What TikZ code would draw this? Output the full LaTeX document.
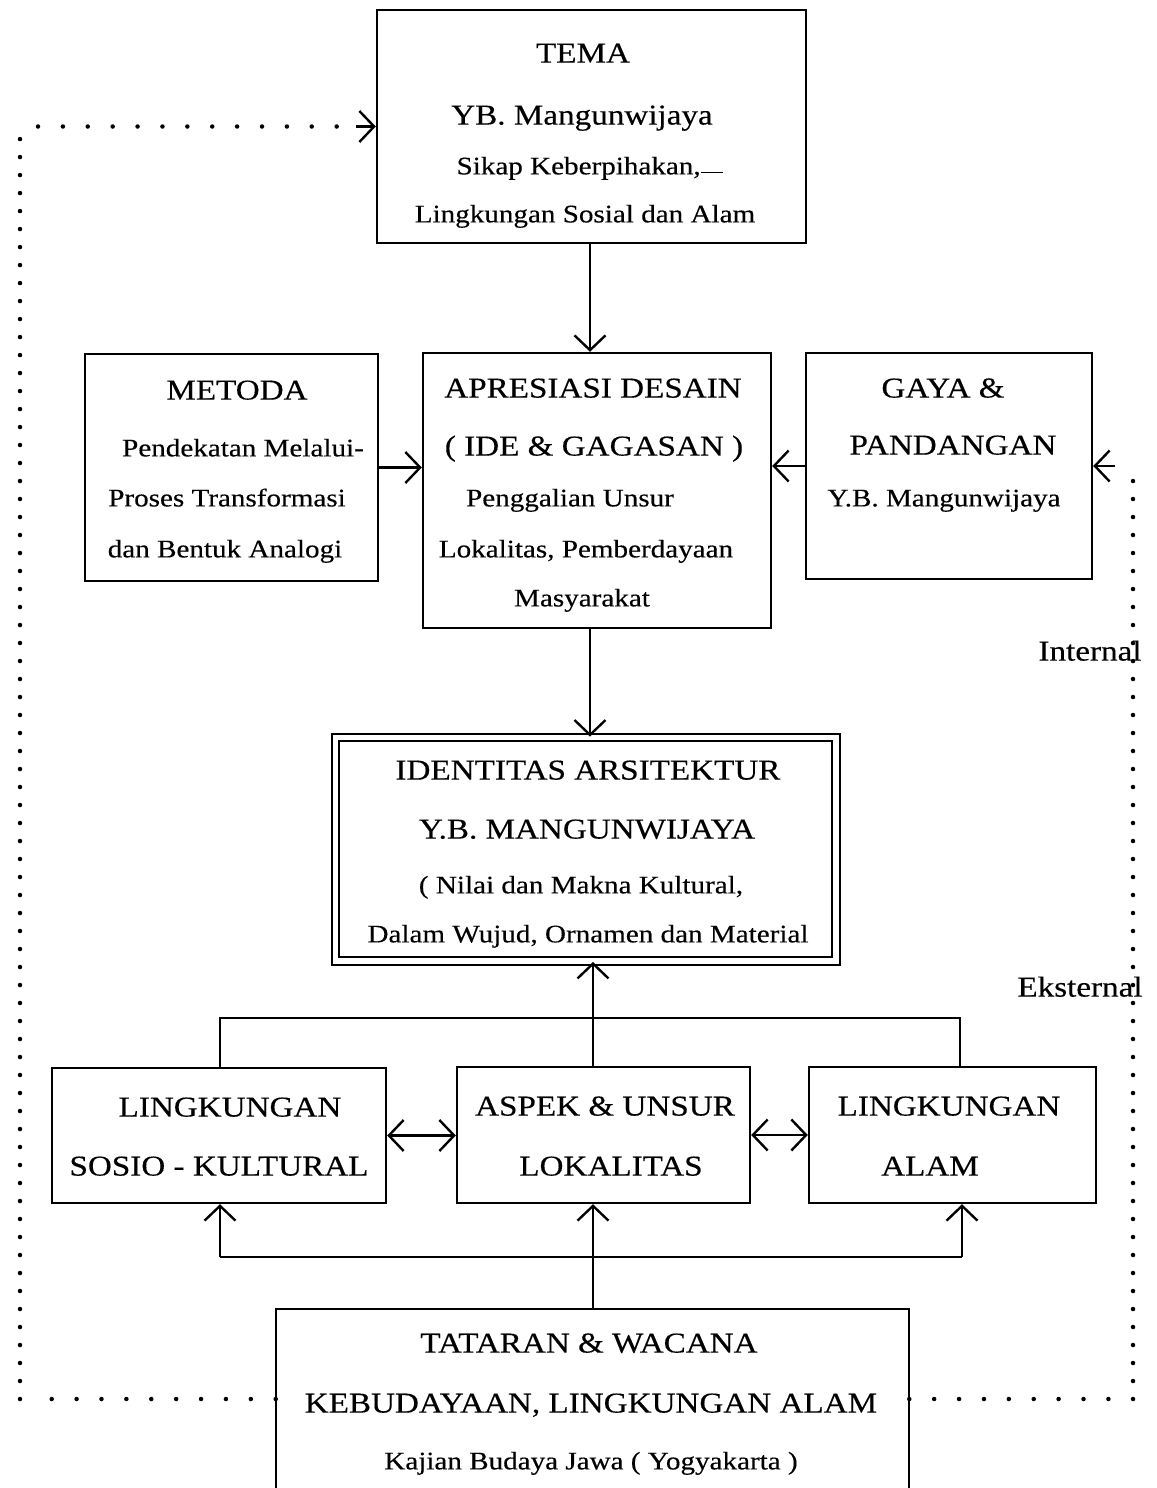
\documentclass[tikz,border=0pt]{standalone}
\usepackage{fontspec}
\setmainfont[FakeStretch=1.15,FakeBold=0.3]{Liberation Serif}
\usetikzlibrary{arrows.meta,fit,calc}
\tikzset{
  box/.style={draw, line width=1.7pt, inner sep=0pt},
  big/.style={font=\fontsize{20.5}{24}\selectfont, inner sep=0pt, text height=13.6pt, text depth=0pt},
  small/.style={font=\fontsize{18}{21}\selectfont, inner sep=0pt, text height=11.9pt, text depth=0pt},
  conn/.style={line width=1.7pt},
  arr/.style={conn, -{Straight Barb[length=10.5pt,width=22pt,line width=1.7pt]}},
  darr/.style={conn, {Straight Barb[length=10.5pt,width=22pt,line width=1.7pt]}-{Straight Barb[length=10.5pt,width=22pt,line width=1.7pt]}},
  dotsH/.style={line width=3.2pt, line cap=round, dash pattern=on 0pt off 17.7pt},
  dotsV/.style={line width=3.2pt, line cap=round, dash pattern=on 0pt off 12.8pt}
}
\begin{document}
\begin{tikzpicture}[x=0.025cm,y=-0.025cm]
\useasboundingbox[fill=white] (0,0) rectangle (1157,1488);

% boxes
\node[box, fit={(377,10) (806,243)}] (tema) {};
\node[box, fit={(85,354) (378,581)}] (metoda) {};
\node[box, fit={(423,353) (771,628)}] (apres) {};
\node[box, fit={(806,353) (1092,579)}] (gaya) {};
\node[box, double, double distance=4.2pt, line width=1.4pt, fit={(335.5,737.5) (836,961)}] (ident) {};
\node[box, fit={(52,1068) (386,1203)}] (sosio) {};
\node[box, fit={(457,1067) (750,1203)}] (aspek) {};
\node[box, fit={(809,1067) (1096,1203)}] (alam) {};
\node[inner sep=0pt, fit={(276,1309) (909,1500)}] (tat) {};
\draw[line width=1.7pt] (tat.south west) -- (tat.north west) -- (tat.north east) -- (tat.south east);

% texts
\node[big] (t1) at (583,53) {TEMA};
\node[big] (t2) at (582,115) {YB. Mangunwijaya};
\node[small] (t3) at (590,166) {Sikap Keberpihakan,\rule[1pt]{0.9em}{1pt}};
\node[small] (t4) at (585,214) {Lingkungan Sosial dan Alam};

\node[big] (m1) at (237,390) {METODA};
\node[small] (m2) at (243,448) {Pendekatan Melalui-};
\node[small] (m3) at (227,498) {Proses Transformasi};
\node[small] (m4) at (225,549) {dan Bentuk Analogi};

\node[big] (a1) at (593,388) {APRESIASI DESAIN};
\node[big] (a2) at (594,446) {( IDE \& GAGASAN )};
\node[small] (a3) at (570,498) {Penggalian Unsur};
\node[small] (a4) at (586,549) {Lokalitas, Pemberdayaan};
\node[small] (a5) at (582,598) {Masyarakat};

\node[big] (g1) at (943,388) {GAYA \&};
\node[big] (g2) at (953,445) {PANDANGAN};
\node[small] (g3) at (944,498) {Y.B. Mangunwijaya};

\node[big] (i1) at (588,770) {IDENTITAS ARSITEKTUR};
\node[big] (i2) at (587,829) {Y.B. MANGUNWIJAYA};
\node[small] (i3) at (581,885) {( Nilai dan Makna Kultural,};
\node[small] (i4) at (588,934) {Dalam Wujud, Ornamen dan Material};

\node[big] (s1) at (230,1107) {LINGKUNGAN};
\node[big] (s2) at (219,1166) {SOSIO - KULTURAL};
\node[big] (k1) at (605,1106) {ASPEK \& UNSUR};
\node[big] (k2) at (611,1166) {LOKALITAS};
\node[big] (l1) at (949,1106) {LINGKUNGAN};
\node[big] (l2) at (930,1166) {ALAM};

\node[big] (w1) at (589,1343) {TATARAN \& WACANA};
\node[big] (w2) at (591,1403) {KEBUDAYAAN, LINGKUNGAN ALAM};
\node[small] (w3) at (591,1461) {Kajian Budaya Jawa ( Yogyakarta )};

\node[big] (lin) at (1090,651) {Internal};
\node[big] (lex) at (1080,987) {Eksternal};

% coordinates
\coordinate (spine) at (590,0);
\coordinate (spine2) at (593,0);
\coordinate (tl) at (220,1018);
\coordinate (tr) at (960,1018);
\coordinate (bl) at (220,1257);
\coordinate (br) at (962,1257);
\coordinate (dl1) at (20,1399);
\coordinate (dl2) at (20,126.5);
\coordinate (dr1) at (1133,1399);
\coordinate (dr2) at (1133,466);

% connectors
\draw[arr] (tema.south -| spine) -- (apres.north -| spine);
\draw[arr] (metoda.east) -- (metoda.east -| apres.west);
\draw[arr] (gaya.west) -- (gaya.west -| apres.east);
\draw[arr] (apres.south -| spine) -- (ident.north -| spine);
\draw[arr] (aspek.north -| spine2) -- (ident.south -| spine2);
\draw[conn] (sosio.north -| tl) -- (tl) -- (tr) -- (alam.north -| tr);
\draw[darr] (sosio.east) -- (sosio.east -| aspek.west);
\draw[darr] (aspek.east) -- (aspek.east -| alam.west);
\draw[arr] (tat.north -| spine2) -- (aspek.south -| spine2);
\draw[conn] (bl) -- (br);
\draw[arr] (bl) -- (sosio.south -| bl);
\draw[arr] (br) -- (alam.south -| br);

% dotted feedback lines
\draw[dotsH] (dl1 -| tat.west) -- ($(dl1)+(18,0)$);
\draw[dotsV] (dl1) -- (dl2);
\draw[dotsH] ($(dl2)+(18,0)$) -- ($(dl2 -| tema.west)+(-20,0)$);
\draw[arr] ($(dl2 -| tema.west)+(-20,0)$) -- (dl2 -| tema.west);
\draw[dotsH] (dr1 -| tat.east) -- ($(dr1)+(-18,0)$);
\draw[dotsV] (dr1) -- (dr2);
\draw[arr] ($(dr2 -| gaya.east)+(22,0)$) -- (dr2 -| gaya.east);
\end{tikzpicture}
\end{document}
